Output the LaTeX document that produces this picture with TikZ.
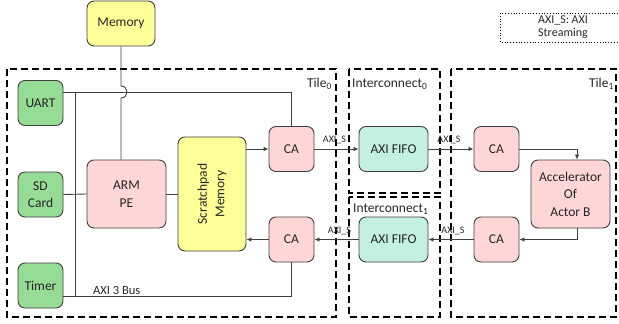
\documentclass[tikz,border=0pt]{standalone}
\usepackage{fontspec}
\setmainfont{Carlito}
\usepackage{graphicx}
\usetikzlibrary{arrows.meta,calc}
\definecolor{cyel}{RGB}{255,255,153}
\definecolor{cgrn}{RGB}{150,220,150}
\definecolor{cpnk}{RGB}{255,214,214}
\definecolor{cteal}{RGB}{196,240,228}
\definecolor{cline}{RGB}{64,64,64}
\definecolor{ctxt}{RGB}{38,38,38}
\begin{document}
\begin{tikzpicture}[x=1pt,y=-1pt,
  box/.style={draw=cline, line width=0.9pt, rounded corners=7pt, align=center,
    text=ctxt, inner sep=1pt, font=\fontsize{13.5}{17.5}\selectfont},
  ybox/.style={box, fill=cyel},
  gbox/.style={box, fill=cgrn, minimum width=45pt, minimum height=45pt},
  pbox/.style={box, fill=cpnk},
  tbox/.style={box, fill=cteal, minimum width=69pt, minimum height=45pt},
  cabox/.style={pbox, minimum width=45pt, minimum height=45pt},
  wire/.style={draw=cline, line width=0.9pt},
  arr/.style={wire, -{Latex[length=5pt,width=4.5pt]}},
  tile/.style={draw=black, line width=1.5pt, dash pattern=on 7pt off 4pt},
  ttl/.style={inner sep=0pt, text=ctxt, font=\fontsize{13.5}{15}\selectfont},
  axl/.style={inner sep=0pt, text=ctxt, font=\fontsize{10}{11}\selectfont},
]
\useasboundingbox (0,0) rectangle (619,324);

% tiles
\draw[tile] (7,69) rectangle (336,317);
\draw[tile] (349,69) rectangle (440,193);
\draw[tile] (349,197) rectangle (440,317);
\draw[tile] (451,69) rectangle (616,317);
\node[ttl, anchor=base east] (t0l) at (332,87) {Tile\textsubscript{0}};
\node[ttl, anchor=base west] (i0l) at (352,87) {Interconnect\textsubscript{0}};
\node[ttl, anchor=base west] (i1l) at (353,212) {Interconnect\textsubscript{1}};
\node[ttl, anchor=base east] (t1l) at (614,87) {Tile\textsubscript{1}};

% legend
\draw[line width=0.8pt, dotted] (500,13) rectangle (621,42);
\node[align=center, inner sep=0pt, text=ctxt, font=\fontsize{12}{13}\selectfont] (leg) at (563,27.5) {AXI\_S: AXI\\Streaming};

% nodes
\node[ybox, minimum width=68pt, minimum height=45pt] (mem) at (121,23.5) {Memory};
\node[gbox] (uart) at (40.5,103) {UART};
\node[gbox] (sd) at (40.5,194.5) {SD\\Card};
\node[gbox] (timer) at (40.5,285.5) {Timer};
\node[pbox, minimum width=79pt, minimum height=68pt] (arm) at (126.5,194) {ARM\\PE};
\node[ybox, minimum width=68pt, minimum height=114pt] (spm) at (212,194)
  {\rotatebox{90}{\begin{tabular}{@{}c@{}}Scratchpad\\Memory\end{tabular}}};
\node[cabox] (ca0t) at (291.5,149) {CA};
\node[cabox] (ca0b) at (291.5,239.5) {CA};
\node[tbox] (fifo0) at (393.5,149) {AXI FIFO};
\node[tbox] (fifo1) at (393.5,239.5) {AXI FIFO};
\node[cabox] (ca1t) at (496.5,149) {CA};
\node[cabox] (ca1b) at (496.5,239.5) {CA};
\node[pbox, minimum width=79pt, minimum height=68pt] (acc) at (570.5,194) {Accelerator\\Of\\Actor B};

% bus wiring
\draw[wire] (uart.east |- 0,92) -| (ca0t.north);
\draw[wire] (75,92) -- (75,296);
\draw[wire] (timer.east |- 0,296) -| (ca0b.south);
\node[inner sep=0pt, anchor=base west, text=ctxt, font=\fontsize{12.5}{14}\selectfont] (bus) at (93,294) {AXI 3 Bus};
\draw[wire] (mem.south) -- (121,86) .. controls (129,86) and (129,98) .. (121,98) -- (mem.south |- arm.north);
\draw[wire] (sd.east) -- (arm.west);
\draw[wire] (arm.east) -- (spm.west);

% arrows
\draw[arr] (spm.east |- ca0t.west) -- (ca0t.west);
\draw[arr] (ca0b.west) -- (spm.east |- ca0b.west);
\draw[arr] (ca0t.east) -- (fifo0.west);
\draw[arr] (fifo0.east) -- (ca1t.west);
\draw[arr] (ca1t.east) -| ([xshift=6.5pt]acc.north);
\draw[arr] ([xshift=6.5pt]acc.south) |- (ca1b.east);
\draw[arr] (ca1b.west) -- (fifo1.east);
\draw[arr] (fifo1.west) -- (ca0b.east);

\node[axl, anchor=base] (l1) at (334.5,142) {AXI\_S};
\node[axl, anchor=base] (l2) at (449,142) {AXI\_S};
\node[axl, anchor=base] (l3) at (339.5,233) {AXI\_S};
\node[axl, anchor=base] (l4) at (453,233) {AXI\_S};
\end{tikzpicture}
\end{document}
